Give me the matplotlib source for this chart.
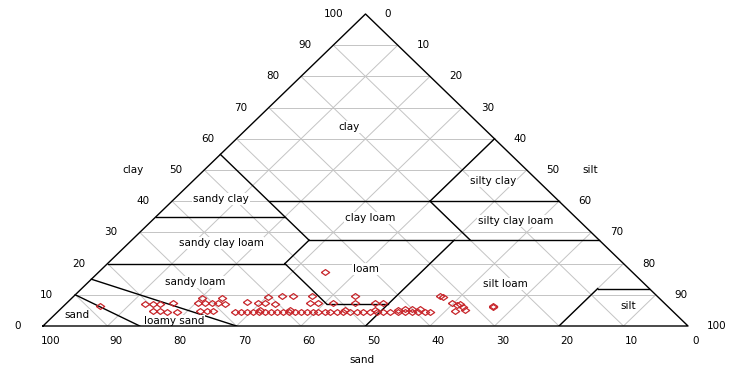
import matplotlib
matplotlib.use("Agg")
import matplotlib.pyplot as plt

plt.rcParams['font.family'] = ['DejaVu Sans']

# soil samples (percent sand, percent clay); silt is the rest
sand = [88.0, 80.6, 79.4, 78.3, 76.1, 80.5, 79.5, 78.5, 77.0,
        70.9, 67.8, 72.3, 71.2, 70.1, 69.2, 68.2, 73.3, 72.2, 71.2,
        68.0, 67.1, 66.1, 65.2, 64.3, 63.3, 62.4, 61.5, 60.5, 59.6, 58.7,
        57.7, 56.8, 55.9, 55.1, 54.0, 53.3, 52.2, 51.3, 50.2, 49.1, 48.1,
        47.0, 46.0, 45.0, 44.0, 42.7, 41.6, 40.5, 39.6, 38.5, 37.7,
        64.5, 63.0, 61.9, 60.5, 54.9, 53.7, 51.3, 47.9, 44.8, 43.6, 32.9, 31.8,
        60.5, 58.2, 56.4, 53.5, 46.8, 33.6, 33.4,
        63.8, 59.2, 50.6, 45.9, 42.4, 41.2, 40.1, 38.9, 33.7, 32.0, 32.5, 31.8,
        27.0, 27.1, 47.6]
clay = [6.4, 7.1, 7.1, 7.1, 7.4, 4.8, 4.8, 4.5, 4.5,
        9.0, 9.0, 7.4, 7.4, 7.4, 7.4, 7.1, 4.8, 4.8, 4.8,
        4.5, 4.5, 4.5, 4.5, 4.5, 4.5, 4.5, 4.5, 4.5, 4.5, 4.5,
        4.5, 4.5, 4.5, 4.5, 4.5, 4.5, 4.5, 4.5, 4.5, 4.5, 4.5,
        4.5, 4.5, 4.5, 4.5, 4.5, 4.5, 4.5, 4.5, 4.5, 4.5,
        7.7, 7.4, 7.4, 7.1, 7.4, 7.4, 7.4, 7.4, 7.4, 7.4, 7.4, 7.1,
        9.3, 9.6, 9.6, 9.6, 9.6, 9.6, 9.3,
        5.1, 5.1, 5.1, 5.1, 5.1, 5.4, 5.4, 5.4, 4.8, 5.1, 6.7, 6.1,
        6.4, 6.2, 17.3]

ticks = [0, 10, 20, 30, 40, 50, 60, 70, 80, 90, 100]

# USDA class boundaries, end points as (sand, clay)
boundaries = [
    ((45, 55), (45, 27.5)),
    ((45, 40), (0, 40)),
    ((20, 40), (0, 60)),
    ((65, 35), (45, 35)),
    ((45, 27.5), (0, 27.5)),
    ((20, 40), (20, 27.5)),
    ((45, 27.5), (52.5, 20)),
    ((80, 20), (52.5, 20)),
    ((52.5, 20), (52.5, 7)),
    ((52.5, 7), (43, 7)),
    ((22.5, 27.5), (50, 0)),
    ((20, 0), (8, 12)),
    ((8, 12), (0, 12)),
    ((85, 15), (70, 0)),
    ((90, 10), (85, 0)),
]

class_names = ['clay', 'sandy clay', 'sandy clay loam', 'sandy loam', 'loamy sand',
               'sand', 'loam', 'silt loam', 'silt', 'clay loam', 'silty clay',
               'silty clay loam']
class_sand = [20.7, 52.0, 59.1, 69.3, 78.9, 93.0, 40.8, 21.5, 6.1, 32.0, 7.0, 9.9]
class_clay = [63.8, 40.7, 26.6, 14.1, 1.6, 3.5, 18.3, 13.5, 6.4, 34.6, 46.5, 33.7]


def tern(s, c):
    # x runs from sand corner (left) to silt corner (right), y is clay
    silt = 100 - s - c
    return silt + c / 2.0, c


fig = plt.figure(figsize=(7.29, 3.67), dpi=100)
ax = fig.add_axes([43 / 729, 41 / 367, 645 / 729, 312 / 367])
ax.set_xlim(0, 100)
ax.set_ylim(0, 100)
ax.axis('off')

grid_col = '#c4c4c4'
for v in ticks[1:-1]:
    for a, b in [((100 - v, v), (0, v)),       # clay constant
                 ((v, 100 - v), (v, 0)),       # sand constant
                 ((0, 100 - v), (100 - v, 0))]:  # silt constant
        x0, y0 = tern(*a)
        x1, y1 = tern(*b)
        ax.plot([x0, x1], [y0, y1], color=grid_col, lw=0.7, zorder=1)

for a, b in boundaries:
    x0, y0 = tern(*a)
    x1, y1 = tern(*b)
    ax.plot([x0, x1], [y0, y1], color='black', lw=1.0, zorder=2)

ax.plot([0, 100, 50, 0], [0, 0, 100, 0], color='black', lw=1.0, zorder=5,
        clip_on=False)

for name, s, c in zip(class_names, class_sand, class_clay):
    x, y = tern(s, c)
    ax.text(x, y, name, ha='center', va='center', fontsize=7.5, zorder=3,
            bbox=dict(boxstyle='square,pad=0.1', fc='white', ec='none'))

diamond = [(-1, 0), (0, 0.7), (1, 0), (0, -0.7), (-1, 0)]
px = [tern(s, c)[0] for s, c in zip(sand, clay)]
py = [tern(s, c)[1] for s, c in zip(sand, clay)]
ax.plot(px, py, ls='none', marker=diamond, ms=6, mfc='none', mec='#c8282d',
        mew=0.9, zorder=6, clip_on=False)

fs = 7.5
for t in ticks:
    # clay on the left edge
    ax.annotate(str(t), tern(100 - t, t), xytext=(-22, 0), textcoords='offset pixels',
                ha='right', va='center', fontsize=fs, annotation_clip=False)
    # silt on the right edge
    ax.annotate(str(t), tern(0, 100 - t), xytext=(19, 0), textcoords='offset pixels',
                ha='left', va='center', fontsize=fs, annotation_clip=False)
    # sand along the bottom
    ax.annotate(str(t), tern(t, 0), xytext=(8, -15), textcoords='offset pixels',
                ha='center', va='center', fontsize=fs, annotation_clip=False)

ax.annotate('clay', tern(50, 50), xytext=(-61, 0), textcoords='offset pixels',
            ha='right', va='center', fontsize=fs, annotation_clip=False)
ax.annotate('silt', tern(0, 50), xytext=(56, 0), textcoords='offset pixels',
            ha='left', va='center', fontsize=fs, annotation_clip=False)
ax.annotate('sand', tern(50, 0), xytext=(-4, -34), textcoords='offset pixels',
            ha='center', va='center', fontsize=fs, annotation_clip=False)

fig.savefig('out.png', dpi=100, facecolor='white')
